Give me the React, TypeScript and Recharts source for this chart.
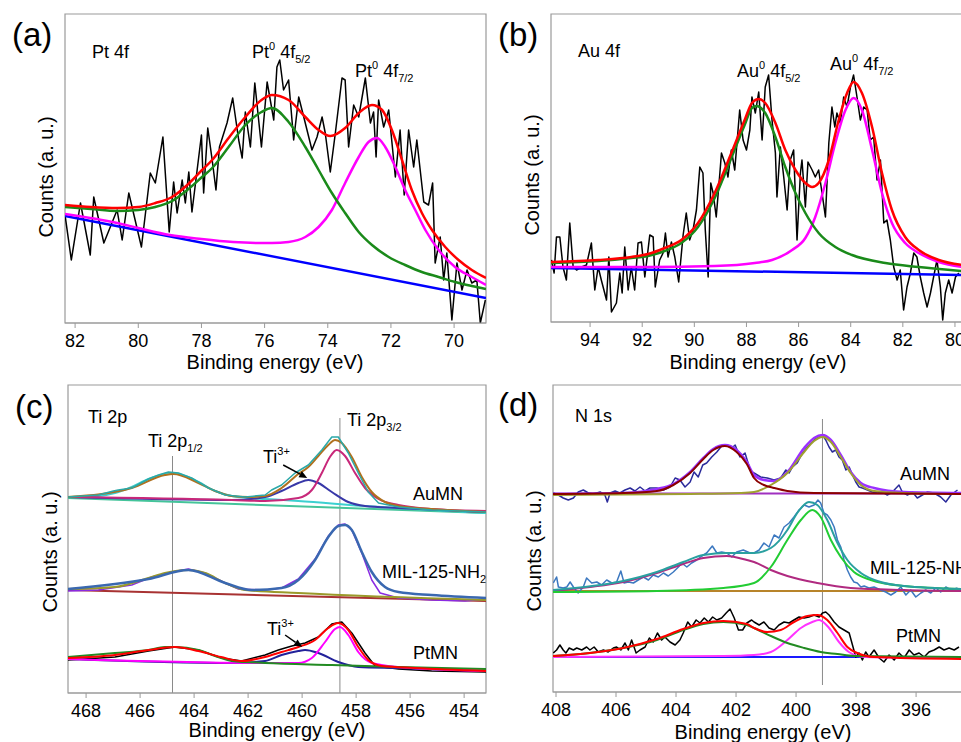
import React from 'react';
import { LineChart, Line, XAxis, YAxis, ReferenceArea, ReferenceLine } from 'recharts';

type P = [number, number];

// (a) Pt 4f  — binding energy (eV), counts (a.u.)
const ptRaw: P[] = [[82.31,106],[82.12,63],[81.83,120],[81.52,68],[81.41,126],[81.09,80],[80.67,113],[80.51,83],[80.30,130],[79.90,76],[79.62,150],[79.46,140],[79.22,186],[79.02,91],[78.88,141],[78.77,110],[78.61,143],[78.51,120],[78.40,151],[78.30,111],[78.00,188],[77.93,130],[77.80,195],[77.66,163],[77.54,133],[77.43,176],[77.19,200],[77.01,225],[76.82,183],[76.71,165],[76.61,211],[76.45,176],[76.31,240],[76.10,176],[75.92,241],[75.71,203],[75.61,256],[75.52,263],[75.40,233],[75.24,243],[75.08,183],[74.92,226],[74.76,206],[74.50,173],[74.34,186],[74.18,206],[74.08,190],[73.92,151],[73.76,190],[73.55,245],[73.45,243],[73.34,176],[73.18,218],[73.02,206],[72.81,245],[72.65,200],[72.55,211],[72.47,166],[72.39,223],[72.23,196],[72.07,213],[71.86,146],[71.71,193],[71.58,128],[71.44,193],[71.28,156],[71.18,183],[70.96,121],[70.81,118],[70.68,140],[70.60,60],[70.44,86],[70.33,43],[70.23,70],[70.07,3],[69.91,60],[69.75,33],[69.59,53],[69.44,40],[69.28,43],[69.17,0],[69.01,23]];
const ptBase: P[] = [[82.32,107],[68.99,25]];
const pt72: P[] = [[82.32,109],[80.67,100],[80.0,95],[79.0,88],[78.0,84],[77.0,81],[76.0,80],[75.77,80],[75.24,81],[74.71,86],[74.29,96],[73.87,113],[73.45,140],[73.02,166],[72.71,181],[72.44,185],[72.18,176],[71.86,156],[71.55,133],[71.23,113],[70.91,93],[70.49,73],[69.97,56],[69.44,46],[68.99,38]];
const pt52: P[] = [[82.32,116],[81.5,114],[80.67,112],[80.0,113],[79.46,116],[78.93,122],[78.45,133],[77.98,146],[77.66,155],[77.14,176],[76.61,198],[76.1,211],[75.77,215],[75.24,201],[74.71,176],[74.29,153],[73.87,130],[73.45,110],[73.02,91],[72.6,78],[72.07,66],[71.55,58],[71.02,51],[70.49,46],[69.97,41],[69.44,37],[68.99,34]];
const ptSum: P[] = [[82.32,118],[81.5,116],[80.67,115],[80.0,116],[79.46,120],[78.93,126],[78.45,138],[77.98,153],[77.66,163],[77.14,185],[76.61,206],[76.1,223],[75.77,228],[75.24,223],[74.71,206],[74.29,193],[73.92,187],[73.45,195],[73.02,210],[72.6,218],[72.28,213],[71.97,193],[71.65,163],[71.34,133],[71.02,110],[70.7,93],[70.28,76],[69.86,63],[69.44,53],[68.99,45]];

// (b) Au 4f
const auRaw: P[] = [[95.48,62],[95.38,49],[95.29,85],[95.16,85],[95.04,55],[94.91,42],[94.78,99],[94.65,55],[94.52,52],[94.33,55],[94.14,57],[93.95,79],[93.82,32],[93.69,55],[93.57,42],[93.37,22],[93.28,65],[93.18,10],[92.99,19],[92.86,49],[92.77,29],[92.67,75],[92.54,32],[92.42,55],[92.29,32],[92.16,79],[92.03,80],[91.90,45],[91.71,87],[91.58,85],[91.50,35],[91.33,62],[91.20,69],[91.11,89],[91.01,65],[90.88,80],[90.75,65],[90.60,40],[90.43,87],[90.31,109],[90.18,82],[90.05,92],[89.92,112],[89.79,155],[89.67,149],[89.58,92],[89.47,45],[89.37,139],[89.28,129],[89.16,105],[89.02,149],[88.96,169],[88.83,159],[88.71,145],[88.58,172],[88.45,152],[88.26,212],[88.13,182],[88.00,172],[87.87,192],[87.79,225],[87.66,209],[87.53,230],[87.40,182],[87.28,235],[87.15,247],[87.02,202],[86.89,169],[86.83,125],[86.70,175],[86.57,145],[86.44,112],[86.32,162],[86.19,172],[86.06,82],[85.93,149],[85.87,162],[85.74,115],[85.64,160],[85.48,152],[85.36,145],[85.23,152],[85.10,129],[84.97,105],[84.84,179],[84.72,215],[84.61,195],[84.53,209],[84.40,199],[84.27,225],[84.14,215],[84.01,235],[83.89,247],[83.76,225],[83.63,202],[83.50,215],[83.37,212],[83.25,182],[83.12,185],[82.99,142],[82.86,162],[82.73,99],[82.61,102],[82.48,82],[82.35,55],[82.22,42],[82.10,52],[81.97,12],[81.84,35],[81.71,49],[81.58,69],[81.46,65],[81.33,45],[81.20,29],[81.07,15],[80.94,29],[80.82,45],[80.69,62],[80.56,35],[80.47,2],[80.37,29],[80.24,42],[80.11,29],[79.98,45],[79.85,49]];
const auBase: P[] = [[95.5,54],[79.73,47]];
const au72: P[] = [[95.5,55],[91.78,55],[89.22,56],[87.68,59],[87.02,62],[86.25,72],[85.74,84],[85.36,105],[84.97,139],[84.59,179],[84.2,212],[83.89,224],[83.57,212],[83.18,172],[82.8,129],[82.42,99],[81.91,79],[81.39,69],[80.62,60],[79.73,55]];
const au52: P[] = [[95.5,59],[93.69,61],[92.42,64],[91.78,66],[91.14,71],[90.5,79],[89.86,95],[89.22,124],[88.58,164],[88.07,197],[87.79,214],[87.62,216],[87.28,209],[86.89,185],[86.51,155],[86.12,129],[85.74,109],[85.23,89],[84.59,75],[83.95,67],[82.67,59],[81.39,55],[79.73,51]];
const auSum: P[] = [[95.5,60],[93.69,62],[92.42,65],[91.78,68],[91.14,74],[90.5,82],[89.86,99],[89.22,129],[88.58,169],[88.07,202],[87.79,219],[87.53,223],[87.28,219],[86.89,199],[86.51,172],[86.12,152],[85.74,139],[85.48,135],[85.23,139],[84.84,162],[84.46,202],[84.14,229],[83.89,240],[83.57,229],[83.18,195],[82.8,149],[82.42,112],[81.91,85],[81.39,72],[80.62,62],[79.73,57]];

// (c) Ti 2p
const tiAuRaw: P[] = [[468.67,196],[467.55,198],[466.99,202],[466.81,203],[466.31,205],[465.69,214],[465.32,218],[464.95,221],[464.58,220],[464.09,215],[463.47,205],[462.85,198],[462.11,196],[461.37,198],[461.13,203],[460.76,208],[460.26,220],[459.77,228],[459.27,243],[458.90,256],[458.66,256],[458.29,240],[457.92,220],[457.55,201],[457.17,190],[456.43,186],[455.2,183],[453.19,181]];
const tiAuP12: P[] = [[468.67,196],[467.55,197],[466.93,200],[466.31,206],[465.69,214],[465.08,219],[464.77,220],[464.34,217],[463.84,211],[463.22,202],[462.61,197],[461.99,195],[461.37,194],[460.14,192],[457.67,187],[453.19,180]];
const tiAuSum: P[] = [[468.67,196],[466.31,205],[465.08,218],[464.77,219],[463.84,210],[463.22,202],[462.61,197],[461.99,196],[461.37,197],[460.76,205],[460.14,219],[459.77,226],[459.4,237],[459.03,248],[458.78,253],[458.53,250],[458.16,236],[457.79,216],[457.42,201],[456.93,191],[456.43,187],[455.2,184],[453.19,181]];
const tiAuTi4: P[] = [[468.67,196],[462.61,193],[461.37,192],[460.14,195],[459.64,203],[459.27,220],[458.97,236],[458.72,243],[458.41,237],[458.04,220],[457.67,205],[457.17,194],[456.43,188],[455.2,184],[453.19,182]];
const tiAuTi3: P[] = [[468.67,196],[462.61,193],[461.37,196],[460.76,202],[460.14,210],[459.77,213],[459.4,210],[458.90,201],[458.29,191],[457.67,187],[456.43,185],[453.19,181]];
const tiAuBase: P[] = [[468.67,195],[453.19,180]];
const tiMilRaw: P[] = [[468.67,102],[467.55,103],[466.31,108],[465.57,116],[464.83,121],[464.21,124],[463.59,120],[462.85,110],[462.36,104],[461.37,103],[460.76,105],[460.14,114],[459.52,134],[459.03,157],[458.66,168],[458.41,169],[458.16,163],[457.79,140],[457.42,113],[457.11,100],[456.43,95],[455.2,93],[453.97,92],[453.19,94]];
const tiMilSum: P[] = [[468.67,104],[465.69,114],[464.21,123],[462.85,110],[461.87,103],[460.76,105],[460.14,113],[459.52,133],[459.03,156],[458.66,167],[458.41,168],[458.16,163],[457.79,141],[457.42,121],[456.93,106],[456.43,101],[455.2,98],[453.19,95]];
const tiMilP12: P[] = [[468.67,104],[466.93,106],[465.69,115],[465.08,120],[464.21,123],[463.59,120],[462.85,110],[462.11,103],[460.14,100],[453.19,93]];
const tiMilBase: P[] = [[468.67,103],[453.19,92]];
const tiPtRaw: P[] = [[468.67,33],[466.93,36],[465.69,42],[464.71,46],[463.84,43],[462.98,35],[462.24,32],[461.37,38],[460.88,43],[460.38,47],[459.89,50],[459.4,56],[458.90,69],[458.53,71],[458.16,60],[457.67,40],[457.3,27],[456.43,24],[455.2,22],[453.19,21]];
const tiPtSum: P[] = [[468.67,35],[466.93,38],[465.69,43],[464.71,46],[463.84,42],[463.0,36],[462.24,32],[461.37,36],[460.76,41],[460.14,46],[459.52,53],[459.03,65],[458.66,70],[458.29,63],[457.92,46],[457.55,33],[457.05,27],[455.82,25],[453.19,22]];
const tiPtP12: P[] = [[468.67,36],[466.93,40],[465.69,43],[465.08,46],[464.71,46],[463.84,43],[463.22,37],[462.61,32],[461.37,30],[458.90,28],[456.43,26],[453.19,24]];
const tiPtTi4: P[] = [[468.67,34],[461.37,30],[460.14,30],[459.64,35],[459.15,51],[458.78,64],[458.6,66],[458.29,58],[457.92,41],[457.42,30],[456.43,26],[453.19,22]];
const tiPtTi3: P[] = [[468.67,34],[462.61,30],[461.37,32],[460.76,38],[460.14,42],[459.89,43],[459.4,40],[458.66,31],[457.92,26],[456.43,25],[453.19,22]];

// (d) N 1s
const nAuRaw: P[] = [[408.09,199],[407.92,197],[407.76,194],[407.59,192],[407.42,194],[407.26,200],[407.09,202],[406.92,199],[406.76,198],[406.53,200],[406.37,197],[406.29,190],[406.20,199],[406.03,201],[405.87,199],[405.70,202],[405.53,204],[405.37,201],[405.20,205],[405.03,201],[404.87,204],[404.64,204],[404.42,202],[404.20,205],[404.03,214],[403.87,212],[403.70,205],[403.53,210],[403.40,220],[403.26,215],[403.11,227],[402.98,229],[402.81,235],[402.64,240],[402.48,246],[402.31,247],[402.14,244],[402.03,247],[401.87,235],[401.70,239],[401.53,222],[401.40,219],[401.18,215],[400.96,214],[400.73,212],[400.51,214],[400.34,222],[400.23,219],[400.12,225],[399.96,229],[399.79,239],[399.62,245],[399.46,250],[399.29,255],[399.12,257],[399.01,252],[398.90,245],[398.79,240],[398.68,242],[398.57,235],[398.46,232],[398.34,222],[398.23,225],[398.12,217],[398.01,210],[397.90,205],[397.79,204],[397.62,202],[397.46,200],[397.29,199],[397.12,200],[396.96,197],[396.79,200],[396.57,207],[396.46,200],[396.29,197],[396.12,200],[395.96,194],[395.79,197],[395.62,200],[395.40,199],[395.18,195],[395.01,190],[394.84,197],[394.62,202]];
const nAu402: P[] = [[408.1,198],[405.76,199],[404.64,201],[404.09,207],[403.53,219],[403.09,233],[402.76,242],[402.37,246],[401.98,240],[401.64,228],[401.40,214],[401.07,207],[400.73,204],[400.29,201],[399.4,199],[394.47,198]];
const nAu399: P[] = [[408.1,197],[403.53,198],[401.87,199],[401.40,200],[400.84,207],[400.29,219],[399.73,240],[399.4,251],[399.12,255],[398.84,250],[398.51,235],[398.18,219],[397.84,207],[397.4,201],[396.4,199],[394.47,198]];
const nAuSum: P[] = [[408.1,198],[405.76,199],[404.64,203],[404.09,208],[403.53,220],[403.09,234],[402.76,243],[402.37,247],[401.98,242],[401.64,230],[401.40,217],[401.07,212],[400.73,211],[400.29,220],[399.73,244],[399.4,254],[399.12,257],[398.84,252],[398.51,237],[398.18,220],[397.84,209],[397.4,204],[396.4,200],[394.47,199]];
const nAuBase: P[] = [[408.1,198.5],[394.47,198.5]];
const nMilRaw: P[] = [[408.09,109],[407.98,115],[407.92,105],[407.76,104],[407.64,105],[407.53,110],[407.42,105],[407.26,99],[407.09,105],[406.98,114],[406.81,109],[406.64,110],[406.48,107],[406.31,112],[406.14,109],[405.98,110],[405.84,121],[405.73,109],[405.59,110],[405.42,109],[405.26,112],[405.09,115],[404.92,112],[404.76,117],[404.59,115],[404.42,119],[404.26,116],[404.09,120],[403.92,125],[403.81,129],[403.64,125],[403.48,129],[403.31,132],[403.14,136],[402.98,139],[402.79,146],[402.64,139],[402.48,140],[402.31,139],[402.14,135],[401.98,140],[401.76,142],[401.53,139],[401.40,139],[401.23,142],[401.07,149],[400.90,145],[400.73,157],[400.57,154],[400.40,165],[400.23,169],[400.07,175],[399.90,182],[399.73,187],[399.57,185],[399.40,187],[399.27,192],[399.18,189],[399.07,179],[398.96,177],[398.84,172],[398.73,165],[398.62,152],[398.51,145],[398.40,132],[398.29,122],[398.18,115],[398.07,110],[397.96,109],[397.84,105],[397.73,106],[397.57,104],[397.40,105],[397.18,102],[397.01,100],[396.84,97],[396.68,100],[396.51,105],[396.34,97],[396.18,102],[396.01,95],[395.84,99],[395.68,102],[395.51,99],[395.34,104],[395.18,100],[395.01,105],[394.84,102],[394.62,104]];
const nMilSum: P[] = [[408.1,102],[405.76,111],[404.64,120],[403.76,130],[403.09,137],[402.31,139],[401.64,139],[401.4,139],[400.84,144],[400.29,162],[399.96,179],[399.57,190],[399.29,187],[398.96,172],[398.62,149],[398.29,132],[397.84,119],[397.18,110],[396.4,106],[394.47,103]];
const nMil399: P[] = [[408.1,100],[404.64,101],[402.42,104],[401.4,109],[400.84,125],[400.29,152],[399.84,172],[399.46,182],[399.18,175],[398.84,152],[398.51,135],[398.07,120],[397.51,112],[396.4,106],[394.47,103]];
const nMil402: P[] = [[408.1,101],[406.87,105],[405.76,110],[404.64,119],[403.76,128],[403.09,134],[402.31,136],[401.64,132],[401.4,130],[400.84,122],[400.29,116],[399.29,109],[398.18,104],[396.4,102],[394.47,101]];
const nMilBase: P[] = [[408.1,101],[394.47,101]];
const nPtRaw: P[] = [[408.09,39],[407.98,42],[407.87,47],[407.76,42],[407.67,39],[407.56,44],[407.42,42],[407.31,44],[407.14,42],[406.98,45],[406.87,42],[406.73,45],[406.59,40],[406.42,42],[406.26,40],[406.09,44],[405.98,45],[405.84,42],[405.70,49],[405.59,42],[405.48,52],[405.33,39],[405.20,42],[405.03,45],[404.89,54],[404.76,50],[404.62,59],[404.48,52],[404.37,55],[404.20,50],[404.03,47],[403.87,52],[403.76,59],[403.61,70],[403.48,65],[403.33,72],[403.20,69],[403.06,74],[402.92,70],[402.78,75],[402.64,72],[402.48,74],[402.33,79],[402.20,83],[402.06,74],[401.92,62],[401.78,62],[401.64,69],[401.48,72],[401.40,70],[401.23,67],[401.07,70],[400.90,64],[400.73,62],[400.57,67],[400.40,70],[400.23,69],[400.07,72],[399.90,75],[399.73,74],[399.57,75],[399.40,77],[399.23,75],[399.12,79],[399.01,80],[398.90,77],[398.73,70],[398.57,65],[398.40,62],[398.23,59],[398.12,47],[398.01,35],[397.90,39],[397.79,32],[397.68,40],[397.57,35],[397.40,42],[397.23,34],[397.07,30],[396.90,37],[396.73,32],[396.57,39],[396.40,34],[396.23,42],[396.07,37],[395.90,39],[395.73,35],[395.57,40],[395.40,42],[395.23,45],[395.07,42],[394.90,44],[394.73,42],[394.57,45]];
const nPtSum: P[] = [[408.1,36],[406.87,39],[405.76,44],[404.64,53],[403.76,63],[403.09,69],[402.42,71],[401.64,68],[401.4,64],[400.96,60],[400.51,62],[400.07,70],[399.62,76],[399.29,77],[398.96,72],[398.62,59],[398.29,45],[397.96,39],[397.4,35],[394.47,33]];
const nPt402: P[] = [[408.1,36],[406.87,39],[405.76,44],[404.64,52],[403.76,62],[403.09,68],[402.42,70],[401.64,67],[401.4,64],[400.84,56],[400.29,49],[399.73,44],[399.18,40],[398.62,38],[398.07,36],[394.47,35]];
const nPt399: P[] = [[408.1,35],[402.42,36],[401.4,37],[400.84,40],[400.29,52],[399.84,64],[399.46,70],[399.23,72],[398.9,64],[398.57,50],[398.24,40],[397.73,35],[394.47,34]];
const nPtBase: P[] = [[408.1,35],[394.47,35]];

const ticksA = [82, 80, 78, 76, 74, 72, 70];
const ticksB = [94, 92, 90, 88, 86, 84, 82, 80];
const ticksC = [468, 466, 464, 462, 460, 458, 456, 454];
const ticksD = [408, 406, 404, 402, 400, 398, 396];

const FONT = "'Liberation Sans', Arial, Helvetica, sans-serif";
const FRAME = '#9a9a9a';

const rows = (d: P[]) => d.map(([x, y]) => ({ x, y }));

interface Trace { data: P[]; color: string; w: number; raw?: boolean }
interface Guide { x: number; y1: number; y2: number }
interface Arrow { from: P; to: P }

const ArrowShape = (p: any) => {
  const { x1, y1, x2, y2 } = p;
  if ([x1, y1, x2, y2].some((v) => typeof v !== 'number')) return null;
  const a = Math.atan2(y2 - y1, x2 - x1);
  const L = 8, W = 3.5;
  const bx = x2 - L * Math.cos(a), by = y2 - L * Math.sin(a);
  const head = `${x2},${y2} ${bx - W * Math.sin(a)},${by + W * Math.cos(a)} ${bx + W * Math.sin(a)},${by - W * Math.cos(a)}`;
  return (
    <g>
      <line x1={x1} y1={y1} x2={bx} y2={by} stroke="#000" strokeWidth={1.5} />
      <polygon points={head} fill="#000" />
    </g>
  );
};

interface PanelProps {
  left: number; top: number; width: number; height: number;
  margin: { top: number; right: number; bottom: number; left: number };
  domain: [number, number]; ticks: number[]; yMax: number;
  traces: Trace[]; guides?: Guide[]; arrows?: Arrow[];
}

const Panel = ({ left, top, width, height, margin, domain, ticks, yMax, traces, guides = [], arrows = [] }: PanelProps) => (
  <div style={{ position: 'absolute', left, top }}>
    <LineChart width={width} height={height} margin={margin}>
      <XAxis
        type="number" dataKey="x" domain={domain} reversed ticks={ticks} interval={0}
        allowDataOverflow height={30} tickSize={5} tickMargin={6}
        axisLine={{ stroke: FRAME, strokeWidth: 1.2 }} tickLine={{ stroke: FRAME }}
        tick={{ fill: '#000', fontSize: 18 }}
      />
      <YAxis hide type="number" domain={[0, yMax]} allowDataOverflow />
      <ReferenceArea x1={domain[0]} x2={domain[1]} y1={0} y2={yMax} fill="none" fillOpacity={0} stroke={FRAME} strokeWidth={1.2} />
      {guides.map((g, i) => (
        <ReferenceLine key={`g${i}`} segment={[{ x: g.x, y: g.y1 }, { x: g.x, y: g.y2 }]} stroke="#8a8a8a" strokeWidth={1} />
      ))}
      {traces.map((t, i) => (
        <Line
          key={`t${i}`} data={rows(t.data)} dataKey="y" type={t.raw ? 'linear' : 'monotone'}
          stroke={t.color} strokeWidth={t.w} dot={false} activeDot={false}
          strokeLinejoin="round" isAnimationActive={false}
        />
      ))}
      {arrows.map((a, i) => (
        <ReferenceLine key={`a${i}`} segment={[{ x: a.from[0], y: a.from[1] }, { x: a.to[0], y: a.to[1] }]} shape={ArrowShape} />
      ))}
    </LineChart>
  </div>
);

const Peak = ({ x, y, el, sup, orb, sub }: { x: number; y: number; el: string; sup?: string; orb?: string; sub?: string }) => (
  <text x={x} y={y} fontSize={18} fill="#000">
    {el}
    {sup && <tspan fontSize={11} dy={-8}>{sup}</tspan>}
    {orb && <tspan dy={sup ? 8 : 0}>{'\u00a0' + orb}</tspan>}
    {sub && <tspan fontSize={11} dy={5}>{sub}</tspan>}
  </text>
);

const Annotations = () => (
  <svg width={961} height={742} style={{ position: 'absolute', left: 0, top: 0, pointerEvents: 'none' }}>
    <g fontSize={33} fill="#000">
      <text x={12} y={46}>(a)</text>
      <text x={498} y={46}>(b)</text>
      <text x={15} y={418}>(c)</text>
      <text x={498} y={416}>(d)</text>
    </g>
    <g fontSize={20} fill="#000" textAnchor="middle">
      <text x={275} y={369}>Binding energy (eV)</text>
      <text x={758} y={369}>Binding energy (eV)</text>
      <text x={277} y={737}>Binding energy (eV)</text>
      <text x={763} y={739}>Binding energy (eV)</text>
      <text x={46} y={177} transform="rotate(-90 46 177)" dominantBaseline="central">Counts (a. u.)</text>
      <text x={532} y={175} transform="rotate(-90 532 175)" dominantBaseline="central">Counts (a. u.)</text>
      <text x={50} y={552} transform="rotate(-90 50 552)" dominantBaseline="central">Counts (a. u.)</text>
      <text x={534} y={551} transform="rotate(-90 534 551)" dominantBaseline="central">Counts (a. u.)</text>
    </g>
    <g fontSize={18} fill="#000">
      <text x={92} y={58}>Pt 4f</text>
      <text x={578} y={57}>Au 4f</text>
      <text x={88} y={423}>Ti 2p</text>
      <text x={575} y={422}>N 1s</text>
      <text x={413} y={500}>AuMN</text>
      <text x={413} y={659}>PtMN</text>
      <text x={900} y={480}>AuMN</text>
      <text x={896} y={642}>PtMN</text>
    </g>
    <Peak x={252} y={58} el="Pt" sup="0" orb="4f" sub="5/2" />
    <Peak x={355} y={77} el="Pt" sup="0" orb="4f" sub="7/2" />
    <Peak x={737} y={77} el="Au" sup="0" orb="4f" sub="5/2" />
    <Peak x={830} y={70} el="Au" sup="0" orb="4f" sub="7/2" />
    <Peak x={148} y={447} el="Ti" orb="2p" sub="1/2" />
    <Peak x={347} y={426} el="Ti" orb="2p" sub="3/2" />
    <Peak x={263} y={463} el="Ti" sup="3+" />
    <Peak x={267} y={635} el="Ti" sup="3+" />
    <Peak x={382} y={578} el="MIL-125-NH" sub="2" />
    <Peak x={870} y={574} el="MIL-125-NH" sub="2" />
  </svg>
);

export default function App() {
  return (
    <div style={{ position: 'absolute', left: 0, top: 0, width: 961, height: 742, overflow: 'hidden', background: '#fff', fontFamily: FONT }}>
      <Panel
        left={0} top={0} width={490} height={370} margin={{ top: 14, right: 4, bottom: 17, left: 65 }}
        domain={[68.99, 82.32]} ticks={ticksA} yMax={309}
        traces={[
          { data: ptRaw, color: '#000000', w: 1.5, raw: true },
          { data: ptBase, color: '#0000ff', w: 2.5 },
          { data: pt72, color: '#ff00ff', w: 2.5 },
          { data: pt52, color: '#1a8a1a', w: 2.5 },
          { data: ptSum, color: '#ff0000', w: 2.5 },
        ]}
      />
      <Panel
        left={490} top={0} width={472} height={370} margin={{ top: 14, right: 0, bottom: 18, left: 61 }}
        domain={[79.73, 95.5]} ticks={ticksB} yMax={308}
        traces={[
          { data: auRaw, color: '#000000', w: 1.5, raw: true },
          { data: auBase, color: '#0000ff', w: 2.5 },
          { data: au72, color: '#ff00ff', w: 2.5 },
          { data: au52, color: '#1a8a1a', w: 2.5 },
          { data: auSum, color: '#ff0000', w: 2.5 },
        ]}
      />
      <Panel
        left={0} top={370} width={490} height={372} margin={{ top: 15, right: 4, bottom: 19, left: 68 }}
        domain={[453.19, 468.67]} ticks={ticksC} yMax={308}
        guides={[{ x: 464.8, y1: 0, y2: 237 }, { x: 458.6, y1: 0, y2: 275 }]}
        arrows={[{ from: [460.70, 228], to: [459.81, 215] }, { from: [460.63, 58], to: [460.0, 46] }]}
        traces={[
          { data: tiAuBase, color: '#44c49a', w: 2 },
          { data: tiAuP12, color: '#3cd0d0', w: 2 },
          { data: tiAuTi3, color: '#3838a8', w: 2 },
          { data: tiAuTi4, color: '#c8287a', w: 2 },
          { data: tiAuSum, color: '#b0701e', w: 2 },
          { data: tiAuRaw, color: '#2aa8a8', w: 1.5, raw: true },
          { data: tiMilBase, color: '#a83232', w: 2 },
          { data: tiMilRaw, color: '#8a2be2', w: 1.5, raw: true },
          { data: tiMilP12, color: '#9a9a2a', w: 2 },
          { data: tiMilSum, color: '#3a68b0', w: 2.5 },
          { data: tiPtRaw, color: '#000000', w: 1.5, raw: true },
          { data: tiPtTi3, color: '#22229a', w: 2 },
          { data: tiPtTi4, color: '#ff00ff', w: 2 },
          { data: tiPtP12, color: '#228b22', w: 2 },
          { data: tiPtSum, color: '#ff0000', w: 2 },
        ]}
      />
      <Panel
        left={490} top={370} width={472} height={372} margin={{ top: 15, right: 0, bottom: 20, left: 63 }}
        domain={[394.47, 408.1]} ticks={ticksD} yMax={307}
        guides={[{ x: 399.12, y1: 7, y2: 273 }]}
        traces={[
          { data: nAuBase, color: '#a030c0', w: 2 },
          { data: nAuRaw, color: '#2b2b9b', w: 1.5, raw: true },
          { data: nAuSum, color: '#9b30ff', w: 2.5 },
          { data: nAu399, color: '#a0a030', w: 2 },
          { data: nAu402, color: '#8b0000', w: 2 },
          { data: nMilBase, color: '#b8842a', w: 2 },
          { data: nMilRaw, color: '#3c78c0', w: 1.5, raw: true },
          { data: nMil402, color: '#b02a80', w: 2 },
          { data: nMil399, color: '#22cc33', w: 2 },
          { data: nMilSum, color: '#2aa0a0', w: 2 },
          { data: nPtBase, color: '#1a1aff', w: 2 },
          { data: nPtRaw, color: '#000000', w: 1.5, raw: true },
          { data: nPt399, color: '#ff33ff', w: 2 },
          { data: nPt402, color: '#228b22', w: 2 },
          { data: nPtSum, color: '#ff0000', w: 2 },
        ]}
      />
      <Annotations />
    </div>
  );
}
